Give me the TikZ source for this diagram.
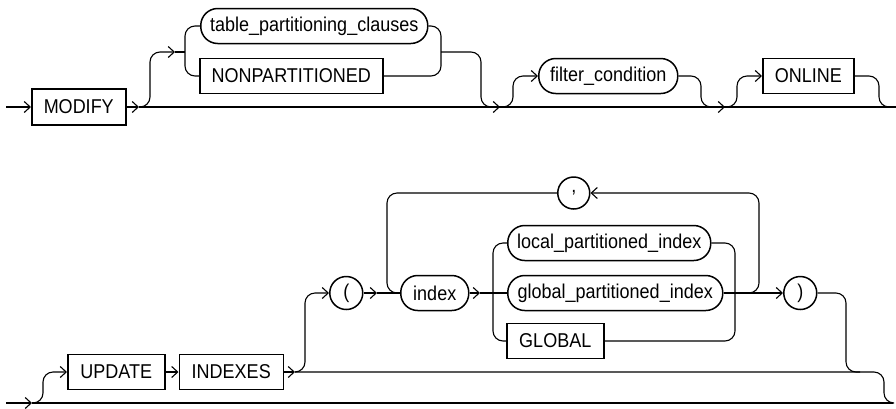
\documentclass[tikz,border=0pt]{standalone}
\usepackage{fontspec}
\setmainfont{Liberation Sans}[FakeStretch=0.9]
\usetikzlibrary{arrows.meta,positioning}

\begin{document}
\begin{tikzpicture}[
    x=1pt, y=-1pt,
    font=\fontsize{20}{22}\selectfont,
    rail/.style={line width=1.1pt, rounded corners=10pt},
    railarr/.style={rail, -{Straight Barb[length=6pt,width=11pt,line width=1.1pt]}},
    kw/.style={draw, line width=1.5pt, rectangle, minimum height=35pt, inner xsep=0pt, anchor=west},
    nt/.style={draw, line width=1.5pt, rectangle, rounded corners=17pt, minimum height=35pt, inner xsep=0pt, anchor=west},
    sym/.style={draw, line width=1.5pt, circle, minimum size=33pt, inner sep=0pt, anchor=west}
]
\useasboundingbox (0,0) rectangle (896,408);

% first row
\node[kw, minimum width=94pt, minimum height=36pt] (n_modify) at (31,107) {MODIFY};
\node[nt, minimum width=227pt] (n_tpc) at (200,26) {table\_partitioning\_clauses};
\node[kw, minimum width=183pt] (n_nonpart) at (199,76) {NONPARTITIONED};
\node[nt, minimum width=139pt] (n_filter) at (538,76) {filter\_condition};
\node[kw, minimum width=91pt] (n_online) at (762,76) {ONLINE};

\coordinate (s1) at (6,107);
\coordinate (j1) at (139,107);
\coordinate (j2) at (500,107);
\coordinate (j3) at (725,107);
\coordinate (e1) at (896,107);

\draw[railarr] (s1) -- (n_modify.west);
\draw[railarr] (n_modify.east) -- (j1);
\draw[rail] (j1) -- (e1);
\draw[railarr] (j1) -| (150,52) -- (175,52);
\draw[rail] (175,52) -- (185,52);
\draw[rail] (n_tpc.west) -| (185,76) -- (n_nonpart.west);
\draw[rail] (n_tpc.east) -| (441,76) -- (n_nonpart.east);
\draw[railarr] (441,52) -| (481,107) -- (j2);
\draw[railarr] (j2) -| (513,76) -- (n_filter.west);
\draw[railarr] (n_filter.east) -| (701,107) -- (j3);
\draw[railarr] (j3) -| (737,76) -- (n_online.west);
\draw[rail] (n_online.east) -| (879,107) -- (890,107);

% second row
\node[kw, minimum width=97pt] (n_update) at (67,372) {UPDATE};
\node[kw, minimum width=104pt, right=13pt of n_update] (n_indexes) {INDEXES};
\node[sym] (n_lpar) at (329,293) {(};
\node[nt, minimum width=68pt] (n_index) at (400,293) {index};
\node[sym, minimum size=32pt] (n_comma) at (557,193) {,};
\node[nt, minimum width=203pt] (n_lpi) at (507,243) {local\_partitioned\_index};
\node[nt, minimum width=215pt] (n_gpi) at (507,293) {global\_partitioned\_index};
\node[kw, minimum width=97pt] (n_global) at (506,341) {GLOBAL};
\node[sym] (n_rpar) at (783,293) {)};

\coordinate (s2) at (6,403);
\coordinate (k0) at (32,403);
\coordinate (k1) at (295,372);
\coordinate (k2) at (377,293);
\coordinate (k3) at (480,293);
\coordinate (k4) at (745,293);
\coordinate (e2) at (893,403);

\draw[railarr] (s2) -- (k0);
\draw[rail] (k0) -- (e2);
\draw[railarr] (k0) -| (43,372) -- (n_update.west);
\draw[railarr] (n_update.east) -- (n_indexes.west);
\draw[railarr] (n_indexes.east) -- (k1);
\draw[rail] (k1) -| (884,403) -- (e2);
\draw[railarr] (k1) -| (305,293) -- (n_lpar.west);
\draw[railarr] (n_lpar.east) -- (k2);
\draw[rail] (k2) -- (n_index.west);
\draw[rail] (n_comma.west) -| (387,293) -- (n_index.west);
\draw[railarr] (n_index.east) -- (k3);
\draw[rail] (k3) -- (n_gpi.west);
\draw[rail] (n_lpi.west) -| (493,341) -- (n_global.west);
\draw[rail] (n_lpi.east) -| (735,341) -- (n_global.east);
\draw[railarr] (n_gpi.east) -- (n_rpar.west);
\draw[railarr] (k4) -| (759,193) -- (n_comma.east);
\draw[rail] (n_rpar.east) -| (846,372) -- (860,372);

\end{tikzpicture}
\end{document}
